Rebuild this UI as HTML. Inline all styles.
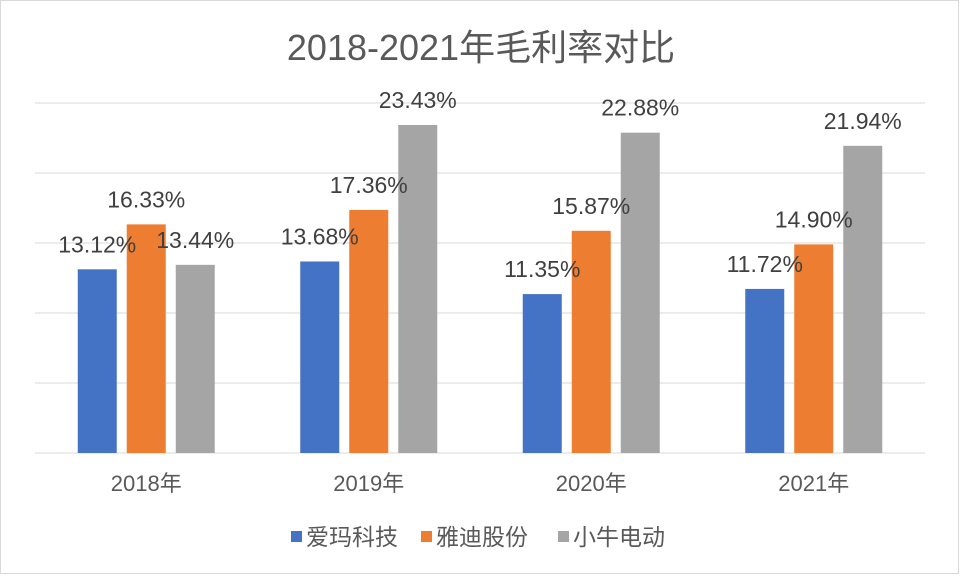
<!DOCTYPE html>
<html><head><meta charset="utf-8"><style>
body{margin:0;background:#fff;}
svg{display:block;font-family:"Liberation Sans","Noto Sans CJK SC",sans-serif;}
</style></head><body>
<svg id="chart" width="964" height="579">
<rect x="0.5" y="0.5" width="958" height="573" fill="#fff" stroke="#d9d9d9"/>
<text x="481" y="60" text-anchor="middle" font-size="36" fill="#595959">2018-2021年毛利率对比</text>
<g id="grid"></g><g id="bars"></g><g id="labels"></g><g id="xaxis"></g><g id="legend"></g>
</svg>
<script>
const categories=["2018年","2019年","2020年","2021年"];
const seriesNames=["爱玛科技","雅迪股份","小牛电动"];
const aima=[13.12,13.68,11.35,11.72];
const yadi=[16.33,17.36,15.87,14.90];
const niu=[13.44,23.43,22.88,21.94];
const yTicks=[0,5,10,15,20,25];
const colors=["#4472c4","#ed7d31","#a5a5a5"];
const series=[aima,yadi,niu];
const NS="http://www.w3.org/2000/svg";
const x0=35,x1=925,y0=453,yTop=103,yMax=25;
const y=v=>y0-(v/yMax)*(y0-yTop);
const band=(x1-x0)/categories.length;
const bw=39,gap=10;
function mk(tag,attrs,parent){const e=document.createElementNS(NS,tag);for(const k in attrs)e.setAttribute(k,attrs[k]);document.getElementById(parent).appendChild(e);return e;}
yTicks.forEach(t=>{const l=mk('line',{x1:x0,x2:x1,y1:y(t),y2:y(t),stroke:'#d9d9d9','stroke-width':1},'grid');

});
categories.forEach((c,i)=>{const cx=x0+band*(i+0.5);
series.forEach((s,j)=>{const bx=cx+(j-1)*(bw+gap)-bw/2;
const r=mk('rect',{x:bx,y:y(s[i]),width:bw,height:y0-y(s[i]),fill:colors[j]},'bars');


const t=mk('text',{x:bx+bw/2,y:y(s[i])-17,'text-anchor':'middle','font-size':23,fill:'#404040'},'labels');
t.textContent=s[i].toFixed(2)+'%';

});
const t=mk('text',{x:cx,y:491,'text-anchor':'middle','font-size':22,fill:'#595959'},'xaxis');
t.textContent=c;

});
const lx=[291,421,558];
seriesNames.forEach((n,j)=>{const g=mk('g',{},'legend');


const r=document.createElementNS(NS,'rect');r.setAttribute('x',lx[j]);r.setAttribute('y',531);r.setAttribute('width',11);r.setAttribute('height',11);r.setAttribute('fill',colors[j]);g.appendChild(r);
const t=document.createElementNS(NS,'text');t.setAttribute('x',lx[j]+15);t.setAttribute('y',545);t.setAttribute('font-size',23);t.setAttribute('fill','#595959');t.textContent=n;g.appendChild(t);});
</script>
</body></html>
